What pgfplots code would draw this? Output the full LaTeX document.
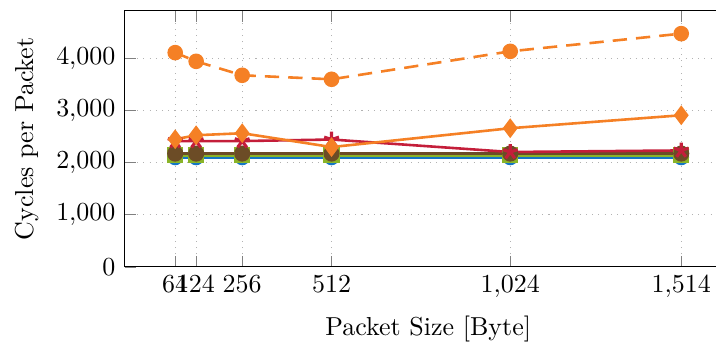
\documentclass[border=0pt]{standalone}
\usepackage{pgfplots}
\pgfplotsset{compat=1.18}
\usetikzlibrary{calc}

\definecolor{cOrange}{RGB}{245,128,37}
\definecolor{cRed}{RGB}{196,30,58}
\definecolor{cGreen}{RGB}{138,180,40}
\definecolor{cBlue}{RGB}{20,118,196}
\definecolor{cBrown}{RGB}{108,76,38}

\begin{document}
\begin{tikzpicture}[x=1pt,y=1pt]
\begin{axis}[
  scale only axis,
  width=233.8pt, height=98.6pt,
  xmin=-81, xmax=1659,
  ymin=0, ymax=4920,
  xtick={64,124,256,512,1024,1514},
  xticklabels={$64$,\kern-0.6pt$124$,$256$,$512$,$1{,}024$,$1{,}514$},
  ytick={0,1000,2000,3000,4000},
  grid=major,
  major grid style={dotted, gray!60},
  tick style={gray},
  xlabel={Packet Size [Byte]},
  ylabel={Cycles per Packet},
  every axis plot/.append style={line width=1pt},
  mark options={solid},
]
\coordinate (O) at (rel axis cs:0,0);
\coordinate (T) at (rel axis cs:0,1);

% baseline forwarding paths
\addplot[cBlue, mark=*, mark size=2.5pt] coordinates {
  (64,2100) (124,2100) (256,2100) (512,2100) (1024,2100) (1514,2100)};
\addplot[cGreen, mark=square*, mark size=2.6pt] coordinates {
  (64,2140) (124,2140) (256,2140) (512,2140) (1024,2140) (1514,2140)};
\addplot[cBrown, mark=*, mark size=2.6pt] coordinates {
  (64,2175) (124,2175) (256,2175) (512,2175) (1024,2175) (1514,2175)};
\addplot[cRed, mark=star, mark size=3pt, mark options={fill=cRed, line width=1.2pt}] coordinates {
  (64,2415) (124,2415) (256,2415) (512,2445) (1024,2205) (1514,2235)};
% orange variants
\addplot[cOrange, mark=diamond*, mark size=3pt] coordinates {
  (64,2450) (124,2527) (256,2566) (512,2300) (1024,2662) (1514,2911)};
\addplot[cOrange, dashed, dash pattern=on 5.5pt off 3.5pt, mark=*, mark size=2.5pt] coordinates {
  (64,4114) (124,3947) (256,3679) (512,3602) (1024,4139) (1514,4479)};
\end{axis}
\pgfresetboundingbox
\path[use as bounding box] ($(O)+(-47.97pt,-30.15pt)$) rectangle ($(T)+(227.7pt,4.12pt)$);
\end{tikzpicture}
\end{document}
